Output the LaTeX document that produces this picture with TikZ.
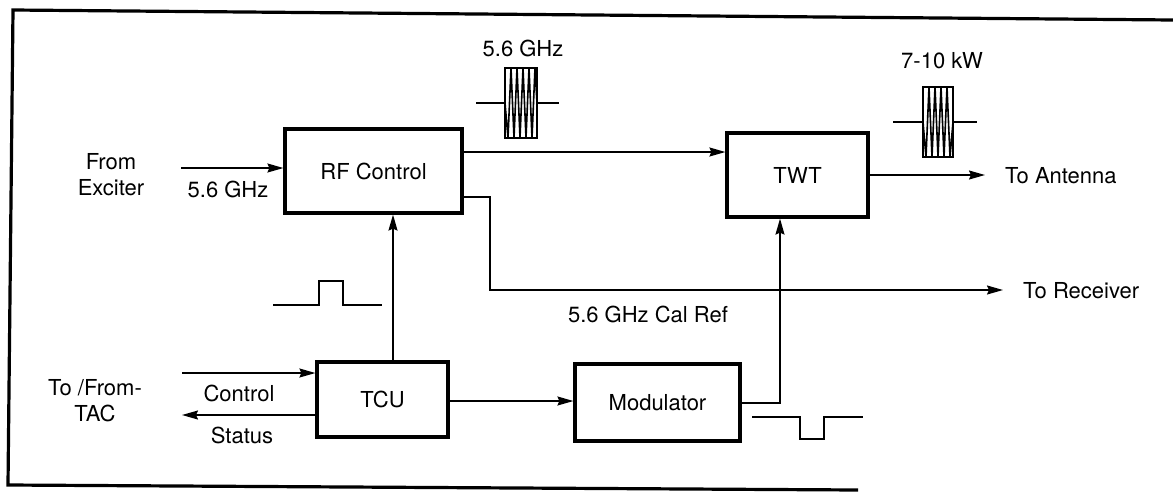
\documentclass[tikz,border=0pt]{standalone}
\usepackage{fontspec}
\setmainfont{TeX Gyre Heros}
\usetikzlibrary{arrows.meta}
\begin{document}
\begin{tikzpicture}[x=1pt,y=-1pt,
  every node/.style={font=\fontsize{22}{26}\selectfont, inner sep=0pt},
  blk/.style={draw, line width=3.2pt, minimum width=#1, minimum height=84pt},
  conn/.style={line width=1.5pt, -{Stealth[length=16pt,width=9pt,inset=2pt]}},
  wave/.style={line width=1.3pt},
  frame/.style={line width=3.2pt}]
\useasboundingbox (0,0) rectangle (1173,491);
% frame
\draw[frame] (1173,20) -- (13,10) -- (8,485) -- (858,490);
% blocks
\node[blk=177pt] (rf) at (373.5,171) {RF Control};
\node[blk=141pt] (twt) at (797.5,175) {TWT};
\node[blk=131pt, minimum height=75pt] (tcu) at (382.5,399.5) {TCU};
\node[blk=165pt, minimum height=77pt] (mod) at (657.5,402.5) {Modulator};
% labels
\node[align=center] (exc) at (111,175) {From\\Exciter};
\node (f56) at (228,189) {5.6 GHz};
\node[align=center] (tac) at (95,401) {To /From-\\TAC};
\node (ctl) at (239,393) {Control};
\node (sts) at (242,435) {Status};
\node[anchor=west] (ant) at (1005,176) {To Antenna};
\node[anchor=west] (rcv) at (1023,291) {To Receiver};
\node (cal) at (648,314) {5.6 GHz Cal Ref};
\node (g56) at (523,48) {5.6 GHz};
\node (kw) at (942,61) {7-10 kW};
% connectors
\coordinate (excin) at (181,168);
\draw[conn] (excin) -- (rf.west |- excin);
\draw[conn] (rf.east |- 0,152) -- (twt.west |- 0,152);
\coordinate (rcvtip) at (1003,290);
\draw[conn] (rf.east |- 0,197) -| (490,290) -- (rcvtip);
\coordinate (antip) at (985,175);
\draw[conn] (twt.east |- antip) -- (antip);
\draw[conn] (tcu.north -| 393,0) -- (rf.south -| 393,0);
\draw[conn] (tcu.east |- 0,401) -- (mod.west |- 0,401);
\draw[conn] (mod.east |- 0,403) -| (780,0 |- twt.south);
\coordinate (ctlin) at (182,373);
\coordinate (ststip) at (182,415);
\draw[conn] (ctlin) -- (tcu.west |- ctlin);
\draw[conn] (tcu.west |- ststip) -- (ststip);
% positive pulse
\draw[wave] (273,305) -- (319,305) -- (319,281) -- (343,281) -- (343,305) -- (382,305);
% negative pulse
\draw[wave] (752,417) -- (800,417) -- (800,439) -- (824,439) -- (824,417) -- (863,417);
% burst 1
\draw[wave] (476,103) -- (505,103);
\draw[wave] (537,103) -- (559,103);
\draw[wave] (505,68) rectangle (537,138);
\draw[line width=1.6pt] (505,103) -- (508,138) -- (511,68) -- (514,138) -- (517,68) -- (520,138) -- (523,68) -- (526,138) -- (529,68) -- (532,138) -- (535,68) -- (537,103);
% burst 2
\draw[wave] (893,122) -- (923,122);
\draw[wave] (953,122) -- (977,122);
\draw[wave] (923,87) rectangle (953,157);
\draw[line width=1.6pt] (923,122) -- (926,157) -- (929,87) -- (932,157) -- (935,87) -- (938,157) -- (941,87) -- (944,157) -- (947,87) -- (950,157) -- (953,122);
\end{tikzpicture}
\end{document}
